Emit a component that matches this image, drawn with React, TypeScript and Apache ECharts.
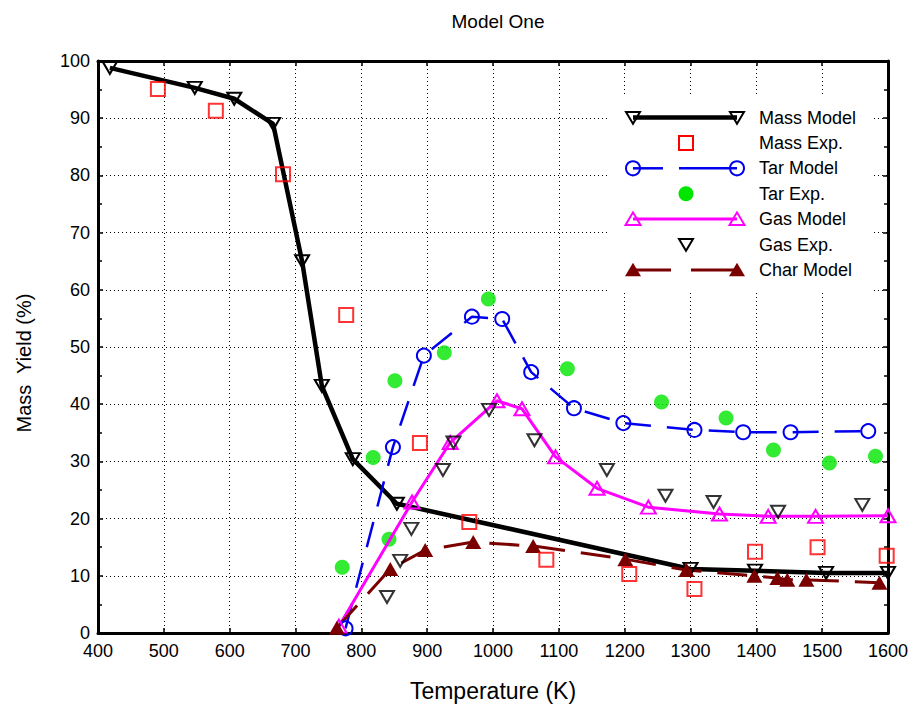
import React, { useEffect, useRef } from "react";
import * as echarts from "echarts";

const massModel: [number, number][] = [
  [418, 98.8], [547, 95.3], [607, 93.4], [666, 89.0], [710, 65.0], [740, 43.2],
  [787, 30.4], [854, 22.6], [1300, 11.2], [1398, 10.9], [1506, 10.5], [1600, 10.5],
];
const massExp: [number, number][] = [
  [491, 95.1], [579, 91.3], [681, 80.2], [777, 55.6], [889, 33.2], [964, 19.4],
  [1081, 12.8], [1207, 10.3], [1306, 7.7], [1398, 14.2], [1493, 15.0], [1598, 13.5],
];
const tarModel: [number, number][] = [
  [776, 0.8], [848, 32.5], [895, 48.5], [968, 55.3], [1014, 54.9], [1058, 45.6],
  [1123, 39.3], [1198, 36.7], [1306, 35.5], [1380, 35.1], [1452, 35.1], [1570, 35.3],
];
const tarExp: [number, number][] = [
  [771, 11.5], [818, 30.7], [851, 44.1], [842, 16.4], [926, 49.0], [993, 58.4],
  [1113, 46.2], [1256, 40.4], [1354, 37.6], [1426, 32.0], [1511, 29.7], [1581, 30.9],
];
const gasModel: [number, number][] = [
  [766, 1.2], [877, 22.9], [935, 33.3], [1006, 40.6], [1044, 39.2], [1095, 30.8],
  [1158, 25.3], [1236, 22.0], [1344, 20.8], [1418, 20.4], [1490, 20.4], [1600, 20.5],
];
const gasExp: [number, number][] = [
  [839, 6.3], [859, 12.6], [876, 18.2], [924, 28.5], [940, 33.3], [994, 39.0],
  [1063, 33.7], [1173, 28.5], [1262, 24.0], [1335, 22.9], [1433, 21.2], [1561, 22.4],
];
const charModel: [number, number][] = [
  [763, 0.9], [844, 11.2], [897, 14.5], [970, 15.9], [1061, 15.2], [1201, 12.9],
  [1294, 11.0], [1397, 10.0], [1432, 9.6], [1447, 9.3], [1476, 9.3], [1587, 8.8],
];

const legendNames = ["Mass Model", "Mass Exp.", "Tar Model", "Tar Exp.", "Gas Model", "Gas Exp.", "Char Model"];

const FONT = "'Liberation Sans', Arial, Helvetica, sans-serif";
const BLACK = "#000000";
const RED = "#ff0000";
const BLUE = "#0000ee";
const GREEN = "#00e600";
const MAGENTA = "#ff00ff";
const DARKRED = "#7a0000";

function downTri(cx: number, cy: number, s: number) {
  return [[cx - s, cy - s * 0.8], [cx + s, cy - s * 0.8], [cx, cy + s * 0.9]];
}
function upTri(cx: number, cy: number, s: number) {
  return [[cx - s, cy + s * 0.8], [cx + s, cy + s * 0.8], [cx, cy - s * 0.9]];
}

function buildLegend() {
  const els: any[] = [];
  els.push({ type: "rect", shape: { x: 610, y: 94, width: 263, height: 198 }, style: { fill: "#fff" }, z: 10 });
  const x1 = 633, x2 = 737, xm = 686, tx = 759;
  const rowY = (i: number) => 117.5 + i * 25.4;
  legendNames.forEach((n, i) => {
    els.push({ type: "text", x: tx, y: rowY(i), style: { text: n, font: `18px ${FONT}`, fill: "#000", textVerticalAlign: "middle" }, z: 11 });
  });
  let y = rowY(0);
  els.push({ type: "line", shape: { x1, y1: y, x2, y2: y }, style: { stroke: BLACK, lineWidth: 4.5 }, z: 11 });
  els.push({ type: "polygon", shape: { points: downTri(x1, y, 7) }, style: { fill: "none", stroke: BLACK, lineWidth: 2 }, z: 12 });
  els.push({ type: "polygon", shape: { points: downTri(x2, y, 7) }, style: { fill: "none", stroke: BLACK, lineWidth: 2 }, z: 12 });
  y = rowY(1);
  els.push({ type: "rect", shape: { x: xm - 7, y: y - 7, width: 14, height: 14 }, style: { fill: "none", stroke: RED, lineWidth: 2 }, z: 12 });
  y = rowY(2);
  els.push({ type: "line", shape: { x1, y1: y, x2: 663, y2: y }, style: { stroke: BLUE, lineWidth: 2.5 }, z: 11 });
  els.push({ type: "line", shape: { x1: 679, y1: y, x2, y2: y }, style: { stroke: BLUE, lineWidth: 2.5 }, z: 11 });
  els.push({ type: "circle", shape: { cx: x1, cy: y, r: 7 }, style: { fill: "none", stroke: BLUE, lineWidth: 2 }, z: 12 });
  els.push({ type: "circle", shape: { cx: x2, cy: y, r: 7 }, style: { fill: "none", stroke: BLUE, lineWidth: 2 }, z: 12 });
  y = rowY(3);
  els.push({ type: "circle", shape: { cx: xm, cy: y, r: 7.5 }, style: { fill: GREEN }, z: 12 });
  y = rowY(4);
  els.push({ type: "line", shape: { x1, y1: y, x2, y2: y }, style: { stroke: MAGENTA, lineWidth: 3 }, z: 11 });
  els.push({ type: "polygon", shape: { points: upTri(x1, y, 7.5) }, style: { fill: "none", stroke: MAGENTA, lineWidth: 2 }, z: 12 });
  els.push({ type: "polygon", shape: { points: upTri(x2, y, 7.5) }, style: { fill: "none", stroke: MAGENTA, lineWidth: 2 }, z: 12 });
  y = rowY(5);
  els.push({ type: "polygon", shape: { points: downTri(xm, y, 7) }, style: { fill: "none", stroke: BLACK, lineWidth: 2 }, z: 12 });
  y = rowY(6);
  els.push({ type: "line", shape: { x1, y1: y, x2: 671, y2: y }, style: { stroke: DARKRED, lineWidth: 3 }, z: 11 });
  els.push({ type: "line", shape: { x1: 691, y1: y, x2, y2: y }, style: { stroke: DARKRED, lineWidth: 3 }, z: 11 });
  els.push({ type: "polygon", shape: { points: upTri(x1, y, 8) }, style: { fill: DARKRED }, z: 12 });
  els.push({ type: "polygon", shape: { points: upTri(x2, y, 8) }, style: { fill: DARKRED }, z: 12 });
  return els;
}

export default function App() {
  const ref = useRef<HTMLDivElement>(null);
  useEffect(() => {
    if (!ref.current) return;
    const chart = echarts.init(ref.current, undefined, { renderer: "svg" });
    const hollow = (c: string) => ({ color: "rgba(0,0,0,0)", borderColor: c, borderWidth: 2 });
    const axisLine = { show: true, onZero: false, lineStyle: { color: "#000", width: 3 } };
    const split = { show: true, lineStyle: { color: "#000", type: [1, 3] as any, width: 1 } };
    const tick = { show: true, inside: true, length: 5, lineStyle: { color: "#000", width: 1.5 } };
    chart.setOption({
      animation: false,
      backgroundColor: "#fff",
      textStyle: { fontFamily: FONT },
      title: {
        text: "Model One",
        left: 493,
        textAlign: "center",
        top: 7,
        textStyle: { fontSize: 19, fontWeight: "normal", color: "#000", fontFamily: FONT },
      },
      grid: { left: 98, right: 25, top: 61, bottom: 74, containLabel: false },
      xAxis: [
        {
          type: "value", min: 400, max: 1600, interval: 100, position: "bottom",
          name: "Temperature (K)", nameLocation: "middle", nameGap: 46,
          nameTextStyle: { fontSize: 23, color: "#000", fontFamily: FONT },
          axisLine, axisTick: tick,
          axisLabel: { fontSize: 18, color: "#000", margin: 9, fontFamily: FONT, formatter: (v: number) => String(v) },
          splitLine: split,
        },
        {
          type: "value", min: 400, max: 1600, interval: 100, position: "top",
          axisLine, axisTick: tick, axisLabel: { show: false }, splitLine: { show: false },
        },
      ],
      yAxis: [
        {
          type: "value", min: 0, max: 100, interval: 10, position: "left",
          name: "Mass  Yield (%)", nameLocation: "middle", nameGap: 64, nameRotate: 90,
          nameTextStyle: { fontSize: 20, color: "#000", fontFamily: FONT, padding: [0, 32, 0, 0] },
          axisLine, axisTick: tick,
          minorTick: { show: true, splitNumber: 2, length: 4, lineStyle: { color: "#000", width: 1.5 } },
          axisLabel: { fontSize: 18, color: "#000", margin: 8, fontFamily: FONT },
          splitLine: split,
        },
        {
          type: "value", min: 0, max: 100, interval: 10, position: "right",
          axisLine, axisTick: tick,
          minorTick: { show: true, splitNumber: 2, length: 4, lineStyle: { color: "#000", width: 1.5 } },
          axisLabel: { show: false }, splitLine: { show: false },
        },
      ],
      series: [
        {
          name: "Mass Model", type: "line", data: massModel, symbol: "triangle", symbolRotate: 180, symbolSize: [14, 12],
          lineStyle: { color: BLACK, width: 4.5 }, itemStyle: hollow(BLACK), z: 3,
        },
        {
          name: "Mass Exp.", type: "scatter", data: massExp, symbol: "rect", symbolSize: 14,
          itemStyle: hollow(RED), z: 4,
        },
        {
          name: "Tar Model", type: "line", data: tarModel, symbol: "circle", symbolSize: 14,
          lineStyle: { color: BLUE, width: 2.5, type: [26, 16] as any }, itemStyle: hollow(BLUE), z: 3,
        },
        {
          name: "Tar Exp.", type: "scatter", data: tarExp, symbol: "circle", symbolSize: 15,
          itemStyle: { color: GREEN }, z: 2,
        },
        {
          name: "Gas Model", type: "line", data: gasModel, symbol: "triangle", symbolSize: [15, 13],
          lineStyle: { color: MAGENTA, width: 3 }, itemStyle: hollow(MAGENTA), z: 3,
        },
        {
          name: "Gas Exp.", type: "scatter", data: gasExp, symbol: "triangle", symbolRotate: 180, symbolSize: [14, 12],
          itemStyle: hollow(BLACK), z: 4,
        },
        {
          name: "Char Model", type: "line", data: charModel, symbol: "triangle", symbolSize: [16, 14],
          lineStyle: { color: DARKRED, width: 3, type: [30, 16] as any }, itemStyle: { color: DARKRED }, z: 3,
        },
      ],
      graphic: buildLegend(),
    });
    return () => chart.dispose();
  }, []);
  return <div ref={ref} style={{ width: 913, height: 707, position: "absolute", left: 0, top: 0 }} />;
}
